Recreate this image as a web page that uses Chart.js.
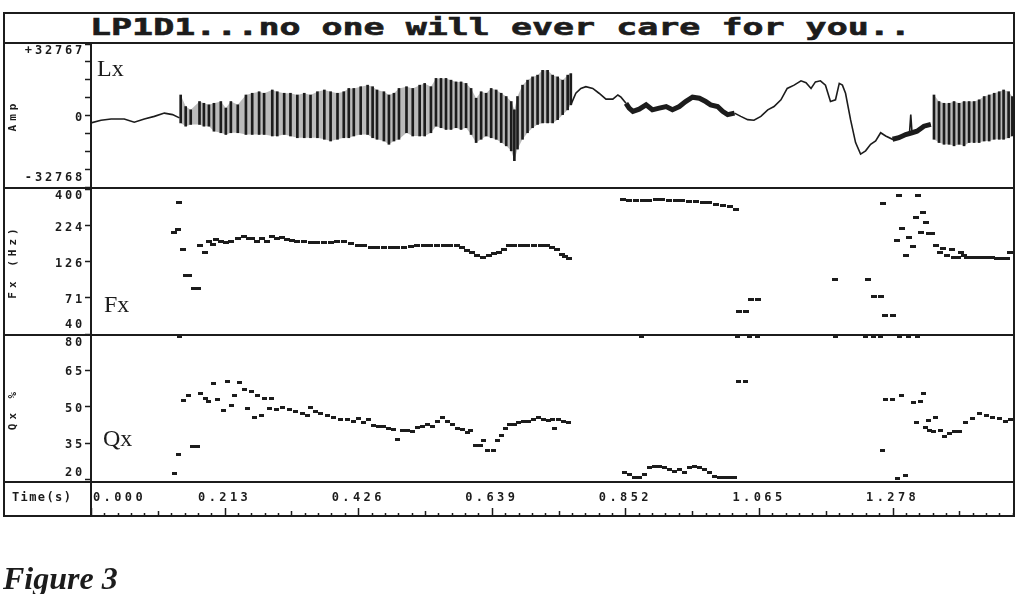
<!DOCTYPE html>
<html lang="en">
<head>
<meta charset="UTF-8">
<title>LP1D1 - Figure 3</title>
<script src="https://cdn.jsdelivr.net/npm/chart.js"></script>
<style>
  body { margin: 0; background: #fff; width: 1030px; height: 594px; overflow: hidden; position: relative; color: #1c1c1c; }
  canvas { position: absolute; }
  .rule { position: absolute; background: #1c1c1c; }
  #title { position: absolute; left: 90px; top: 16px; font: bold 23px 'DejaVu Sans Mono', monospace; line-height: 23px; transform: scaleX(1.52); transform-origin: 0 0; white-space: pre; -webkit-text-stroke: 0.6px #1c1c1c; }
  .tag { position: absolute; font: 24px 'Liberation Serif', serif; line-height: 24px; }
  #timeLbl { position: absolute; left: 12px; top: 491px; font: bold 12px 'DejaVu Sans Mono', monospace; line-height: 12px; letter-spacing: 1.4px; }
  #caption { position: absolute; left: 3px; top: 562px; font: italic bold 32px 'Liberation Serif', serif; line-height: 32px; }
</style>
</head>
<body>

<canvas id="ampChart" width="1010" height="143" style="left:3px;top:44px"></canvas>
<canvas id="fxChart" width="1010" height="145" style="left:3px;top:189px"></canvas>
<canvas id="qxChart" width="1010" height="180" style="left:3px;top:336px"></canvas>

<!-- frame -->
<div class="rule" style="left:3px;top:12px;width:1012px;height:2px"></div>
<div class="rule" style="left:3px;top:42px;width:1012px;height:2px"></div>
<div class="rule" style="left:3px;top:187px;width:1012px;height:2px"></div>
<div class="rule" style="left:3px;top:334px;width:1012px;height:2px"></div>
<div class="rule" style="left:3px;top:481px;width:1012px;height:2px"></div>
<div class="rule" style="left:3px;top:515px;width:1012px;height:2px"></div>
<div class="rule" style="left:3px;top:12px;width:2px;height:505px"></div>
<div class="rule" style="left:1013px;top:12px;width:2px;height:505px"></div>
<div class="rule" style="left:90px;top:43px;width:2px;height:473px"></div>

<div id="title">LP1D1...no one will ever care for you..</div>
<div class="tag" style="left:97px;top:56px">Lx</div>
<div class="tag" style="left:104px;top:292px">Fx</div>
<div class="tag" style="left:103px;top:426px">Qx</div>
<div id="timeLbl">Time(s)</div>
<div id="caption">Figure 3</div>

<script>
  // --- waveform (Lx): one stroke per glottal cycle, upper and lower peak
  const ampStrokeT = [0.143, 0.151, 0.159, 0.173, 0.180, 0.188, 0.196, 0.207, 0.215, 0.223, 0.234, 0.247, 0.257, 0.268, 0.276, 0.289, 0.297, 0.308, 0.318, 0.329, 0.340, 0.350, 0.361, 0.372, 0.382, 0.393, 0.403, 0.411, 0.419, 0.430, 0.441, 0.449, 0.456, 0.467, 0.475, 0.483, 0.491,
    0.503, 0.513, 0.524, 0.532, 0.542, 0.550, 0.558, 0.566, 0.574, 0.582, 0.590, 0.598, 0.606, 0.614, 0.622, 0.630, 0.638, 0.646, 0.654, 0.662, 0.670, 0.675, 0.680, 0.688, 0.696, 0.704, 0.712, 0.720, 0.728, 0.736, 0.744, 0.752, 0.760, 0.765,
    1.344, 1.352, 1.360, 1.368, 1.376, 1.384, 1.392, 1.400, 1.408, 1.416, 1.424, 1.432, 1.440, 1.448, 1.455, 1.463, 1.469];
  const ampStrokeHi = [9400, 4100, 2600, 6400, 5600, 4900, 5600, 6400, 3400, 6400, 4900, 9400, 10200, 10900, 10200, 11700, 10900, 10200, 10200, 9400, 10200, 9400, 10900, 11700, 10900, 10200, 10900, 12400, 12400, 13200, 13900, 13200, 11700, 10900, 9400, 10200, 12400,
    13200, 12400, 13900, 14700, 13200, 17000, 17000, 17000, 16200, 15400, 15400, 14700, 12400, 7900, 10900, 10200, 12400, 11700, 10200, 8700, 6400, 2600, 8700, 13900, 16200, 17700, 18500, 20700, 20700, 18500, 17700, 16200, 18500, 19200,
    9400, 6400, 5600, 5600, 6400, 5600, 6400, 6400, 6400, 7200, 8700, 9400, 10200, 10900, 11700, 10900, 8700];
  const ampStrokeLo = [-3400, -4900, -4100, -4100, -4900, -4900, -7200, -7900, -8700, -7900, -7900, -8700, -8700, -8700, -8700, -9400, -9400, -8700, -9400, -10200, -10200, -10200, -10200, -10900, -11700, -10900, -10200, -10200, -9400, -8700, -8700, -10200, -10900, -11700, -13200, -11700, -10900,
    -7900, -9400, -9400, -9400, -7900, -4900, -5600, -6400, -6400, -5600, -6400, -5600, -8700, -12400, -10900, -9400, -10200, -10900, -12400, -13900, -16200, -20700, -15400, -10900, -7900, -5600, -4100, -3400, -3400, -3400, -1900, 400, 2600, 4900,
    -10900, -12400, -13200, -13200, -13900, -13200, -13900, -12400, -12400, -12400, -11700, -11700, -10900, -10900, -10900, -10200, -9400];

  // smooth (unvoiced) trace; null = gap
  const ampLineT = [0.000, 0.016, 0.032, 0.053, 0.069, 0.085, 0.101, 0.117, 0.130, 0.141, 0.45,
    0.765, 0.773, 0.781, 0.789, 0.800, 0.810, 0.821, 0.832, 0.840, 0.845, 0.853, 0.94,
    1.026, 1.036, 1.047, 1.057, 1.068, 1.079, 1.089, 1.100, 1.110, 1.121, 1.132, 1.140, 1.148, 1.155, 1.163, 1.171, 1.179, 1.187, 1.193, 1.198, 1.203, 1.211, 1.219, 1.227, 1.235, 1.243, 1.251, 1.259, 1.267, 1.278, 1.288, 1.299, 1.305, 1.307, 1.309, 1.317, 1.328, 1.339];
  const ampLineV = [-3400, -2200, -1600, -1600, -3100, -1600, -400, 1100, 400, -1100, null,
    4900, 10200, 12400, 13200, 12400, 10200, 7500, 7500, 9400, 8400, 5600, null,
    1100, -400, -1900, -2200, -400, 2600, 4100, 7200, 12400, 13900, 15900, 15000, 12400, 15400, 15900, 13900, 6400, 7200, 14700, 13900, 10200, -1900, -12400, -17700, -16200, -13200, -11700, -7900, -9400, -10900, -10200, -8700, -8000, 400, -7900, -7200, -4900, -4100];

  // noisy (fricative) stretches of the trace
  const ampNoiseT = [0.853, 0.858, 0.864, 0.874, 0.885, 0.895, 0.906, 0.917, 0.927, 0.938, 0.948, 0.959, 0.970, 0.980, 0.988, 0.999, 1.007, 1.015, 1.026, 1.15,
    1.278, 1.288, 1.299, 1.309, 1.317, 1.328, 1.339];
  const ampNoiseV = [5600, 3400, 1900, 2900, 4900, 2600, 3400, 4100, 2600, 4100, 6400, 8400, 7900, 6400, 4900, 4100, 1900, 400, 1100, null,
    -10900, -10200, -8700, -7900, -7200, -4900, -4100];

  // --- Fx (Hz)
  const fxT = [0.133, 0.139, 0.141, 0.146, 0.151, 0.157, 0.164, 0.170, 0.174, 0.182, 0.188, 0.194, 0.199, 0.207, 0.215, 0.223, 0.234, 0.244, 0.252, 0.257, 0.265, 0.273, 0.281, 0.289, 0.297, 0.305, 0.313, 0.321, 0.329, 0.340, 0.350, 0.361, 0.372, 0.382, 0.393, 0.403, 0.414, 0.425, 0.435, 0.446, 0.456, 0.467, 0.478, 0.488, 0.499, 0.510, 0.520, 0.531, 0.541, 0.552, 0.563, 0.573, 0.584, 0.592, 0.600, 0.608, 0.616, 0.625, 0.634, 0.642, 0.650, 0.658, 0.666, 0.674, 0.685, 0.695, 0.706, 0.717, 0.727, 0.735, 0.743, 0.751, 0.756, 0.762,
    0.848, 0.858, 0.869, 0.880, 0.890, 0.901, 0.911, 0.922, 0.933, 0.943, 0.954, 0.964, 0.975, 0.986, 0.996, 1.007, 1.018, 1.028,
    1.033, 1.044, 1.052, 1.063, 1.187, 1.239, 1.248, 1.259, 1.262, 1.266, 1.278, 1.285, 1.289, 1.293, 1.299, 1.304, 1.311, 1.316, 1.319, 1.323, 1.326, 1.331, 1.336, 1.341, 1.347, 1.353, 1.359, 1.365, 1.372, 1.376, 1.382, 1.387, 1.392, 1.397, 1.405, 1.413, 1.421, 1.429, 1.437, 1.445, 1.452, 1.460, 1.466];
  const fxHz = [202, 211, 324, 153, 102, 102, 83, 83, 162, 147, 173, 165, 180, 174, 171, 174, 182, 187, 182, 182, 173, 182, 173, 187, 182, 184, 180, 177, 174, 173, 170, 170, 170, 171, 174, 173, 168, 164, 162, 159, 157, 159, 159, 159, 159, 161, 164, 164, 164, 164, 164, 164, 162, 157, 151, 146, 140, 134, 140, 144, 147, 153, 162, 164, 164, 164, 164, 164, 164, 159, 154, 141, 136, 133,
    336, 331, 331, 333, 334, 336, 336, 334, 333, 331, 327, 327, 324, 321, 314, 308, 302, 290,
    57, 57, 69, 69, 95, 95, 72, 72, 316, 54, 54, 176, 360, 215, 140, 184, 160, 256, 360, 201, 277, 235, 196, 196, 164, 145, 155, 140, 153, 134, 134, 146, 140, 135, 135, 135, 135, 135, 135, 133, 132, 132, 146];

  // --- Qx (%)
  const qxT = [0.133, 0.139, 0.141, 0.148, 0.155, 0.162, 0.170, 0.174, 0.182, 0.188, 0.195, 0.201, 0.211, 0.217, 0.224, 0.229, 0.236, 0.244, 0.249, 0.256, 0.261, 0.265, 0.272, 0.276, 0.284, 0.288, 0.295, 0.305, 0.316, 0.326, 0.337, 0.345, 0.350, 0.358, 0.366, 0.377, 0.387, 0.398, 0.409, 0.419, 0.427, 0.435, 0.443, 0.451, 0.459, 0.467, 0.475, 0.483, 0.488, 0.496, 0.504, 0.512, 0.520, 0.528, 0.536, 0.544, 0.552, 0.560, 0.568, 0.576, 0.584, 0.592, 0.600, 0.605, 0.613, 0.621, 0.626, 0.632, 0.642, 0.648, 0.654, 0.661, 0.668, 0.675, 0.682, 0.690, 0.698, 0.706, 0.714, 0.722, 0.730, 0.735, 0.739, 0.746, 0.754, 0.762,
    0.850, 0.858, 0.866, 0.874, 0.877, 0.882, 0.890, 0.898, 0.906, 0.914, 0.922, 0.930, 0.938, 0.946, 0.954, 0.962, 0.970, 0.978, 0.986, 0.994, 1.002, 1.010, 1.018, 1.026, 1.031, 1.033, 1.044, 1.050, 1.063,
    1.187, 1.235, 1.247, 1.259, 1.262, 1.266, 1.278, 1.286, 1.289, 1.293, 1.299, 1.304, 1.311, 1.316, 1.318, 1.323, 1.327, 1.331, 1.336, 1.337, 1.344, 1.347, 1.355, 1.360, 1.368, 1.376, 1.384, 1.395, 1.405, 1.416, 1.427, 1.437, 1.448, 1.458, 1.466];
  const qxPct = [22.4, 30.1, 79, 52.4, 54.5, 33.7, 33.7, 55.5, 53.5, 52.1, 59.3, 52.8, 48.5, 60.3, 50.4, 54.5, 59.7, 57.2, 49.1, 56.0, 45.4, 54.5, 46.3, 53.4, 49.1, 53.4, 48.8, 49.5, 48.8, 48.1, 47.2, 46.4, 49.5, 47.9, 47.2, 46.4, 45.4, 44.7, 44.7, 44.0, 45.1, 43.4, 44.7, 42.3, 42.0, 41.8, 41.0, 40.7, 36.6, 40.0, 40.3, 39.6, 41.5, 42.0, 42.7, 41.8, 43.8, 45.4, 44.0, 42.7, 41.0, 40.4, 39.3, 40.0, 34.2, 34.2, 35.9, 31.9, 31.9, 35.9, 38.2, 41.0, 42.7, 42.7, 43.4, 44.0, 43.8, 44.7, 45.4, 44.7, 44.4, 44.7, 41.0, 44.7, 44.0, 43.4,
    22.7, 22.0, 20.7, 20.7, 79, 22.0, 25.0, 25.4, 25.4, 25.0, 24.3, 23.3, 24.0, 22.9, 25.0, 25.4, 25.0, 24.3, 22.9, 21.3, 20.7, 20.7, 20.7, 20.7, 79, 60.3, 60.3, 79, 79,
    79, 79, 79, 79, 31.8, 52.7, 52.7, 20.4, 79, 54.5, 21.6, 79, 51.6, 43.6, 79, 51.9, 55.4, 41.4, 44.3, 40.3, 39.7, 45.4, 40.3, 37.6, 39.0, 39.7, 39.7, 43.6, 45.0, 47.0, 46.3, 45.7, 45.0, 44.0, 44.6];

  // --- axes
  const ampTicks = [-32768, -24576, -16384, -8192, 0, 8192, 16384, 24576, 32767];
  const ampTickLabels = ['-32768', '', '', '', '0', '', '', '', '+32767'];
  const fxTicks = [40, 71, 126, 224, 400];
  const qxTicks = [20, 35, 50, 65, 80];
  const timeMajor = [0, 0.213, 0.426, 0.639, 0.852, 1.065, 1.278];
  const timeLabels = ['0.000', '0.213', '0.426', '0.639', '0.852', '1.065', '1.278'];
  const timeMinor = 0.0213;
  const timeMax = 1.47;

  const ink = '#1c1c1c';
  const tickFont = 'bold 12px "DejaVu Sans Mono", monospace';
  const tickSpacing = '2.8px';

  const zip = (ts, vs) => ts.map((t, i) => ({ x: t, y: vs[i] }));

  function withGaps(ts, vs) {
    const pts = [];
    ts.forEach((t, i) => {
      if (i > 0 && t - ts[i - 1] > 0.1) pts.push({ x: (t + ts[i - 1]) / 2, y: null });
      pts.push({ x: t, y: vs[i] });
    });
    return pts;
  }

  function dash(w, h) {
    const c = document.createElement('canvas');
    c.width = w; c.height = h;
    const g = c.getContext('2d');
    g.fillStyle = ink;
    g.fillRect(0, 0, w, h);
    return c;
  }

  // tick labels sit inside the left column, pulled in at the panel edges
  function sideLabels(labels) {
    return {
      id: 'sideLabels',
      beforeDraw(chart) { chart.ctx.letterSpacing = '4px'; },
      afterDraw(chart) {
        const { ctx, chartArea: a } = chart;
        const ys = chart.scales.y;
        ctx.save();
        ctx.letterSpacing = tickSpacing;
        ctx.font = tickFont;
        ctx.fillStyle = ink;
        ctx.textAlign = 'right';
        ctx.textBaseline = 'middle';
        ys.ticks.forEach((t, i) => {
          if (!labels[i]) return;
          const y = Math.min(Math.max(ys.getPixelForValue(t.value) + 2, a.top + 7), a.bottom - 9);
          ctx.fillText(labels[i], a.left - 6, y);
        });
        ctx.restore();
        ctx.letterSpacing = '0px';
      }
    };
  }

  // time ruler: ticks grow up from the bottom rule, labels above them
  const timeAxis = {
    id: 'timeAxis',
    afterDraw(chart) {
      const { ctx } = chart;
      const xs = chart.scales.x;
      const base = xs.bottom;
      ctx.save();
      ctx.strokeStyle = ink;
      ctx.lineWidth = 1.5;
      ctx.beginPath();
      for (let i = 0; i * timeMinor <= xs.max; i++) {
        const x = Math.round(xs.getPixelForValue(i * timeMinor)) + 0.5;
        const len = i % 10 === 0 ? 8 : (i % 5 === 0 ? 5 : 3);
        ctx.moveTo(x, base);
        ctx.lineTo(x, base - len);
      }
      ctx.stroke();
      ctx.font = tickFont;
      ctx.letterSpacing = '3.4px';
      ctx.fillStyle = ink;
      ctx.textBaseline = 'middle';
      timeMajor.forEach((v, i) => {
        const x = xs.getPixelForValue(v);
        ctx.textAlign = i === 0 ? 'left' : 'center';
        ctx.fillText(timeLabels[i], i === 0 ? x + 2 : x, base - 18.5);
      });
      ctx.restore();
    }
  };

  function yAxis(title, ticks, extra) {
    return Object.assign({
      position: 'left',
      afterFit: s => { s.width = 88; },
      afterBuildTicks: s => { s.ticks = ticks.map(v => ({ value: v })); },
      ticks: { display: false },
      grid: { drawOnChartArea: false, drawTicks: true, tickLength: 6, tickColor: ink, tickWidth: 1.5 },
      border: { display: false },
      title: { display: true, text: title, color: ink, padding: { top: 4, bottom: 0 },
               font: { family: 'DejaVu Sans Mono', size: 11, weight: 'bold' } }
    }, extra);
  }

  const hiddenX = { type: 'linear', min: 0, max: timeMax, display: false, offset: false, grid: { offset: false } };

  const common = {
    responsive: false,
    devicePixelRatio: 1,
    animation: false,
    events: [],
    layout: { padding: 0, autoPadding: false },
    plugins: { legend: { display: false }, tooltip: { enabled: false } }
  };

  new Chart(document.getElementById('ampChart'), {
    type: 'line',
    data: {
      datasets: [
        { data: withGaps(ampStrokeT, ampStrokeHi), fill: '+1', backgroundColor: 'rgba(40,40,40,0.32)',
          borderColor: 'rgba(0,0,0,0)', borderWidth: 0, pointRadius: 0, spanGaps: false, order: 5 },
        { data: withGaps(ampStrokeT, ampStrokeLo), fill: false,
          borderColor: 'rgba(0,0,0,0)', borderWidth: 0, pointRadius: 0, spanGaps: false, order: 5 },
        { type: 'bar', data: ampStrokeT.map((t, i) => ({ x: t, y: [ampStrokeLo[i], ampStrokeHi[i]] })),
          backgroundColor: ink, barThickness: 2, order: 0 },
        { data: zip(ampLineT, ampLineV), borderColor: ink, borderWidth: 1.6, pointRadius: 0,
          spanGaps: false, tension: 0, order: 1 },
        { data: zip(ampNoiseT, ampNoiseV), borderColor: ink, borderWidth: 5, pointRadius: 0,
          spanGaps: false, tension: 0, order: 1 }
      ]
    },
    options: Object.assign({}, common, {
      scales: { x: hiddenX, y: yAxis('Amp', ampTicks, { type: 'linear', min: -32768, max: 32767 }) }
    }),
    plugins: [sideLabels(ampTickLabels)]
  });

  new Chart(document.getElementById('fxChart'), {
    type: 'scatter',
    data: { datasets: [{ data: zip(fxT, fxHz), pointStyle: dash(6, 3), pointRadius: 2 }] },
    options: Object.assign({}, common, {
      scales: { x: hiddenX, y: yAxis('Fx (Hz)', fxTicks, { type: 'logarithmic', min: 40, max: 400 }) }
    }),
    plugins: [sideLabels(fxTicks.map(String))]
  });

  new Chart(document.getElementById('qxChart'), {
    type: 'scatter',
    data: { datasets: [{ data: zip(qxT, qxPct), pointStyle: dash(5, 3), pointRadius: 2 }] },
    options: Object.assign({}, common, {
      scales: {
        x: { type: 'linear', min: 0, max: timeMax, position: 'bottom', offset: false,
             afterFit: s => { s.height = 34; },
             ticks: { display: false }, grid: { display: false }, border: { display: false } },
        y: yAxis('Qx %', qxTicks, { type: 'linear', min: 19, max: 79 })
      }
    }),
    plugins: [sideLabels(qxTicks.map(String)), timeAxis]
  });
</script>
</body>
</html>
